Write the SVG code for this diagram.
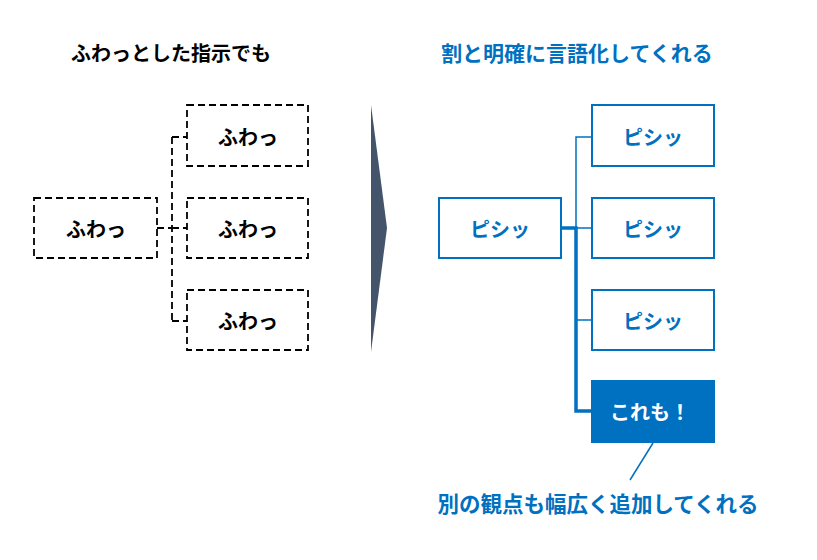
<svg xmlns="http://www.w3.org/2000/svg" width="817" height="560" viewBox="0 0 817 560">
<style>
text{font-family:"Noto Sans CJK JP","Noto Sans CJK SC",sans-serif;font-weight:bold;text-anchor:middle;dominant-baseline:central;font-size:20px}
.d{fill:#fff;stroke:#000;stroke-width:1.8;stroke-dasharray:7 4}
.b{fill:#fff;stroke:#0070C0;stroke-width:2}
.k{fill:#000}
.bl{fill:#0070C0}
.dl{fill:none;stroke:#000;stroke-width:1.8;stroke-dasharray:7 4}
.tl{fill:none;stroke:#0070C0;stroke-width:1.5}
.th{fill:none;stroke:#0070C0;stroke-width:3.5}
</style>
<rect width="817" height="560" fill="#fff"/>
<text class="k" x="171" y="52" font-size="20.5">ふわっとした指示でも</text>
<text class="bl" x="577" y="52" style="font-size:21px">割と明確に言語化してくれる</text>
<g id="connectors">
<path class="dl" d="M157 228H172M172 137V321M172 137H187M172 228H187M172 321H187"/>
<path class="tl" d="M576 228V137H592M576 228H592M576 320H592"/>
<path class="th" d="M561 228H576V411H592"/>
<path class="tl" d="M653 443L630 480"/>
</g>
<g id="arrow"><polygon points="371,105 387,228 371,352" fill="#44546A"/></g>
<g id="l0"><rect class="d" x="34" y="198" width="123" height="60"/><text class="k" x="96" y="228">ふわっ</text></g>
<g id="l1"><rect class="d" x="187" y="105" width="121" height="61"/><text class="k" x="248" y="136">ふわっ</text></g>
<g id="l2"><rect class="d" x="187" y="198" width="121" height="60"/><text class="k" x="248" y="228">ふわっ</text></g>
<g id="l3"><rect class="d" x="187" y="290" width="121" height="60"/><text class="k" x="248" y="320">ふわっ</text></g>
<g id="r0"><rect class="b" x="439" y="198" width="122" height="60"/><text class="bl" x="500" y="228">ピシッ</text></g>
<g id="r1"><rect class="b" x="592" y="105" width="122" height="61"/><text class="bl" x="653" y="136">ピシッ</text></g>
<g id="r2"><rect class="b" x="592" y="198" width="122" height="60"/><text class="bl" x="653" y="228">ピシッ</text></g>
<g id="r3"><rect class="b" x="592" y="290" width="122" height="60"/><text class="bl" x="653" y="320">ピシッ</text></g>
<g id="r4"><rect x="591" y="380" width="124" height="63" fill="#0070C0"/><text x="650" y="411" fill="#fff">これも！</text></g>
<text class="bl" x="598" y="502" style="font-size:21.5px">別の観点も幅広く追加してくれる</text>
</svg>
